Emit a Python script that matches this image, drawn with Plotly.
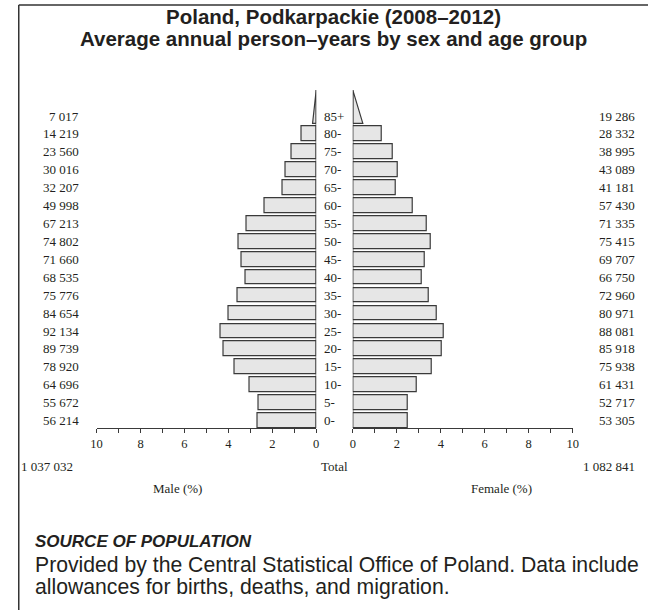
import plotly.graph_objects as go

# ---------------------------------------------
# Data: average annual person-years, Podkarpackie 2008-2012
# ---------------------------------------------
AGE_GROUPS = ["0-", "5-", "10-", "15-", "20-", "25-", "30-", "35-", "40-",
              "45-", "50-", "55-", "60-", "65-", "70-", "75-", "80-", "85+"]
MALE = [56214, 55672, 64696, 78920, 89739, 92134, 84654, 75776, 68535,
        71660, 74802, 67213, 49998, 32207, 30016, 23560, 14219, 7017]
FEMALE = [53305, 52717, 61431, 75938, 85918, 88081, 80971, 72960, 66750,
          69707, 75415, 71335, 57430, 41181, 43089, 38995, 28332, 19286]
TICKS = [0, 1, 2, 3, 4, 5, 6, 7, 8, 9, 10]

W, H = 654, 610
SERIF = "Liberation Serif, Times New Roman, serif"
SANS = "Liberation Sans, Arial, sans-serif"
INK = "#231f20"
FILL = "#e6e6e6"
EDGE = "#3a3a3a"

BAR_W = 0.82
Y_LO = -BAR_W / 2
Y_HI = 18.5


def fmt(v):
    return f"{v:,}".replace(",", " ")


def px(x):
    return x / W


def py(y):
    return 1 - y / H


def main():
    grand = sum(MALE) + sum(FEMALE)
    male_pct = [v / grand * 100 for v in MALE]
    female_pct = [v / grand * 100 for v in FEMALE]
    rows = list(range(len(AGE_GROUPS)))
    last = rows[-1]

    fig = go.Figure()

    bar_style = dict(orientation="h", width=BAR_W,
                     marker=dict(color=FILL, line=dict(color=EDGE, width=1.2)),
                     hoverinfo="skip", showlegend=False)
    fig.add_trace(go.Bar(x=male_pct[:-1], y=rows[:-1], xaxis="x", yaxis="y", **bar_style))
    fig.add_trace(go.Bar(x=female_pct[:-1], y=rows[:-1], xaxis="x2", yaxis="y", **bar_style))

    # open-ended age group drawn as a triangle
    base = last - BAR_W / 2
    apex = Y_HI - 0.05
    for pct, xa in [(male_pct[-1], "x"), (female_pct[-1], "x2")]:
        fig.add_trace(go.Scatter(
            x=[0, pct / 2, 0, 0], y=[base, base, apex, base],
            xaxis=xa, yaxis="y", mode="lines", fill="toself",
            fillcolor=FILL, line=dict(color=EDGE, width=1.2),
            hoverinfo="skip", showlegend=False))

    axis_common = dict(
        tickvals=TICKS,
        ticktext=[str(t) if t % 2 == 0 else "" for t in TICKS],
        ticks="outside", ticklen=4, tickwidth=1, tickcolor=EDGE,
        showline=True, linecolor=EDGE, linewidth=1,
        showgrid=False, zeroline=False, fixedrange=True,
        tickfont=dict(family=SERIF, size=12.5, color=INK),
    )
    y_bot, y_top = py(428), py(89.2)

    fig.update_layout(
        width=W, height=H,
        margin=dict(l=0, r=0, t=0, b=0),
        paper_bgcolor="white", plot_bgcolor="rgba(0,0,0,0)",
        bargap=0,
        xaxis=dict(domain=[px(92.3), px(316)], range=[10, 0], anchor="y", **axis_common),
        xaxis2=dict(domain=[px(353.3), px(577.3)], range=[0, 10], anchor="y", **axis_common),
        yaxis=dict(domain=[y_bot, y_top], range=[Y_LO, Y_HI], visible=False, fixedrange=True),
    )

    # zero lines of both halves
    for xr in ["x", "x2"]:
        fig.add_shape(type="line", xref=xr, yref="y", x0=0, x1=0, y0=Y_LO, y1=apex,
                      line=dict(color=EDGE, width=1.2))

    ann = []
    lab = dict(family=SERIF, size=13, color=INK)
    for i in rows:
        ann.append(dict(x=px(76), y=i, xref="paper", yref="y", text=fmt(MALE[i]),
                        xanchor="right", yanchor="middle", showarrow=False, font=lab))
        ann.append(dict(x=px(643), y=i, xref="paper", yref="y", text=fmt(FEMALE[i]),
                        xanchor="right", yanchor="middle", showarrow=False, font=lab))
        ann.append(dict(x=px(322), y=i, xref="paper", yref="y", text=AGE_GROUPS[i],
                        xanchor="left", yanchor="middle", showarrow=False, font=lab))

    ann += [
        dict(x=px(13), y=py(466), text=fmt(sum(MALE)), xanchor="left", font=lab),
        dict(x=px(334.5), y=py(466), text="Total", xanchor="center", font=lab),
        dict(x=px(643), y=py(466), text=fmt(sum(FEMALE)), xanchor="right", font=lab),
        dict(x=px(175), y=py(488), text="Male (%)", xanchor="center", font=lab),
        dict(x=px(505), y=py(488), text="Female (%)", xanchor="center", font=lab),
    ]

    title_font = dict(family=SANS, size=20.5, color=INK)
    body_font = dict(family=SANS, size=21.2, color=INK)
    ann += [
        dict(x=px(333.5), y=py(17), text="<b>Poland, Podkarpackie (2008–2012)</b>",
             xanchor="center", font=title_font),
        dict(x=px(333.5), y=py(38.5), text="<b>Average annual person–years by sex and age group</b>",
             xanchor="center", font=title_font),
        dict(x=px(27), y=py(541), text="<b><i>SOURCE OF POPULATION</i></b>",
             xanchor="left", font=dict(family=SANS, size=17, color=INK)),
        dict(x=px(27), y=py(565),
             text="Provided by the Central Statistical Office of Poland. Data include",
             xanchor="left", font=body_font),
        dict(x=px(27), y=py(587), text="allowances for births, deaths, and migration.",
             xanchor="left", font=body_font),
    ]
    for a in ann:
        a.setdefault("xref", "paper")
        a.setdefault("yref", "paper")
        a.setdefault("yanchor", "middle")
        a.setdefault("showarrow", False)
    fig.update_layout(annotations=ann)

    # page frame (left and top edges)
    frame = dict(color="#333333", width=1.5)
    fig.add_shape(type="line", xref="paper", yref="paper", x0=px(13), x1=1,
                  y0=py(5), y1=py(5), line=frame)
    fig.add_shape(type="line", xref="paper", yref="paper", x0=px(13), x1=px(13),
                  y0=py(5), y1=0, line=frame)

    fig.write_html("out.html", config={"displayModeBar": False},
                   post_script="document.body.style.margin='0';")


if __name__ == "__main__":
    main()
